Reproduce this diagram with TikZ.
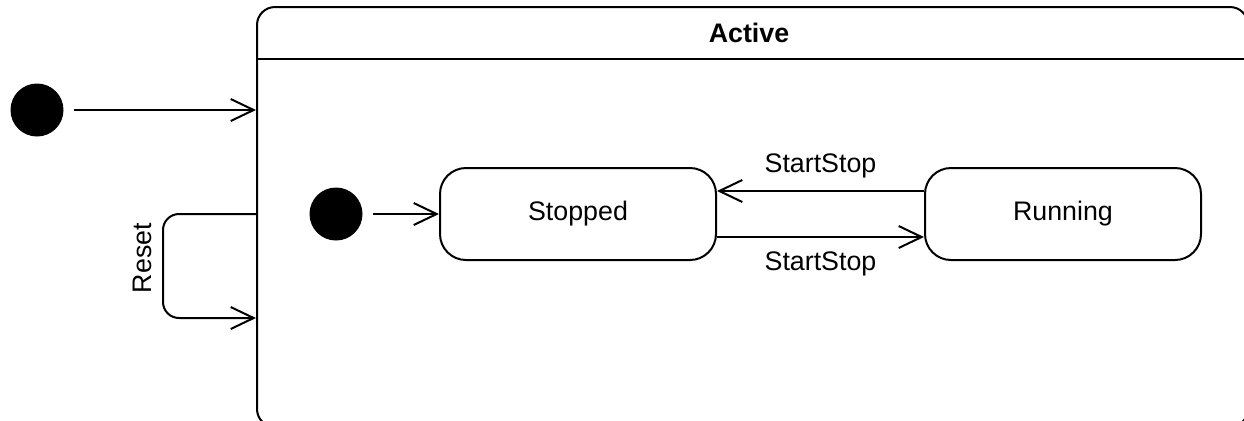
\documentclass[tikz,border=0pt]{standalone}
\usepackage{fontspec}
\setmainfont{Liberation Sans}
\usetikzlibrary{arrows.meta,calc}
\begin{document}
\begin{tikzpicture}[x=0.5pt,y=-0.5pt, line width=1pt,
  txt/.style={font=\fontsize{13.4}{16}\selectfont, inner sep=0pt},
  statebox/.style={draw, txt, rounded corners=13pt, minimum width=138pt, minimum height=46pt},
  initdot/.style={circle, fill=black, minimum size=26.5pt, inner sep=0pt},
  trans/.style={-{Straight Barb[length=11.5pt,width=11pt]}}]
\useasboundingbox (0,0) rectangle (1244,420);
\clip (0,0) rectangle (1244,420);

% composite state with its name compartment (runs past the page edge)
\node[draw, rounded corners=9pt, minimum width=495.5pt, minimum height=210pt,
      inner sep=0pt, anchor=north west] (active) at (256,6) {};
\draw (active.west |- 0,59) coordinate (hl) -- (active.east |- 0,59) coordinate (hr);
\node[txt, font=\bfseries\fontsize{13.4}{16}\selectfont] (title) at (749,33) {Active};

% outer initial pseudostate
\node[initdot] (init) at (37,110) {};
\draw[trans] (init.east) ++(4.5pt,0) coordinate (initout) -- (active.west |- init);

% inner initial pseudostate and states
\node[initdot] (init2) at (336,214) {};
\node[statebox] (stopped) at (578,214) {Stopped};
\node[statebox] (running) at (1063,214) {Running};
\draw[trans] ([xshift=4.5pt]init2.east) -- (stopped.west);

\draw[trans] ([yshift=11.5pt]running.west) -- ([yshift=11.5pt]stopped.east)
  node[txt, midway, above=6pt] (lbl1) {StartStop};
\draw[trans] ([yshift=-11.5pt]stopped.east) -- ([yshift=-11.5pt]running.west)
  node[txt, midway, below=7pt] (lbl2) {StartStop};

% self transition on the composite state
\coordinate (rs) at (active.west |- 0,214);
\coordinate (re) at (active.west |- 0,318);
\draw[trans, rounded corners=8pt] (rs) -- (163,214) -- (163,318) -- (re);
\node[txt, rotate=90] (reset) at (142,258) {Reset};
\end{tikzpicture}
\end{document}
